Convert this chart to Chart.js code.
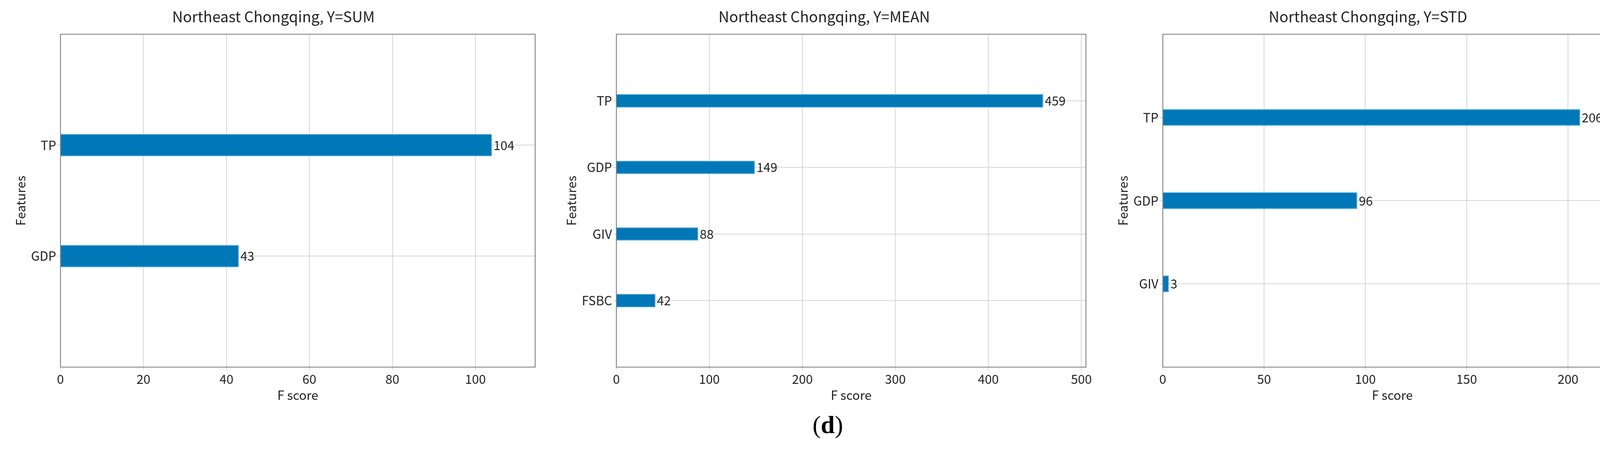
<!DOCTYPE html>
<html>
<head>
<meta charset="utf-8">
<script src="https://cdn.jsdelivr.net/npm/chart.js@4"></script>
<style>
  body { margin: 0; background: #fff; width: 4184px; height: 1164px; position: relative; overflow: hidden; }
  .panel { position: absolute; top: 20px; height: 1010px; }
  #cap { position: absolute; top: 1050px; left: 2080px; font: 64px "Liberation Serif", serif; }
</style>
</head>
<body>
<div class="panel" style="left:10px;width:1380px"><canvas id="c1"></canvas></div>
<div class="panel" style="left:1420px;width:1380px"><canvas id="c2"></canvas></div>
<div class="panel" style="left:2832px;width:1340px"><canvas id="c3"></canvas></div>
<div id="cap">(<b>d</b>)</div>
<script>
// признаки (снизу вверх) и значения F score
const sumFeatures = ["GDP", "TP"];
const sumScores = [43, 104];
const meanFeatures = ["FSBC", "GIV", "GDP", "TP"];
const meanScores = [42, 88, 149, 459];
const stdFeatures = ["GIV", "GDP", "TP"];
const stdScores = [3, 96, 206];
const titles = ["Northeast Chongqing, Y=SUM", "Northeast Chongqing, Y=MEAN", "Northeast Chongqing, Y=STD"];
const xMax = [114.4, 504.9, 226.6];
const xStep = [20, 100, 50];

const FONT = '"Noto Sans CJK SC", "DejaVu Sans", sans-serif';

// рамка вокруг области графика + подписи значений
const frame = {
  id: "frame",
  afterDatasetsDraw(chart) {
    const { ctx, chartArea: a } = chart;
    const meta = chart.getDatasetMeta(0);
    ctx.save();
    ctx.font = "32px " + FONT;
    ctx.fillStyle = "#222";
    ctx.textBaseline = "middle";
    meta.data.forEach((el, i) => {
      ctx.fillText(String(chart.data.datasets[0].data[i].x), el.x + 4, el.y);
    });
    ctx.strokeStyle = "#777";
    ctx.lineWidth = 2;
    ctx.strokeRect(a.left, a.top, a.right - a.left, a.bottom - a.top);
    ctx.restore();
  }
};

function makeChart(id, feats, scores, k) {
  const n = feats.length;
  new Chart(document.getElementById(id), {
    type: "bar",
    data: {
      datasets: [{
        data: scores.map((v, i) => ({ x: v, y: i })),
        backgroundColor: "#0077b6", borderColor: "#4aa8dc", borderWidth: 2,
        barPercentage: 0.2, categoryPercentage: 1
      }]
    },
    options: {
      indexAxis: "y", animation: false, responsive: true, maintainAspectRatio: false,
      layout: { padding: { right: 20, left: 20 } },
      plugins: {
        legend: { display: false }, tooltip: { enabled: false },
        title: { display: true, text: titles[k], color: "#222", font: { family: FONT, size: 38, weight: "normal" }, padding: { bottom: 22 } }
      },
      scales: {
        x: {
          type: "linear", min: 0, max: xMax[k],
          afterBuildTicks: s => { const t = []; for (let v = 0; v <= xMax[k]; v += xStep[k]) t.push({ value: v }); s.ticks = t; },
          ticks: { color: "#222", font: { family: FONT, size: 32 }, maxRotation: 0 },
          grid: { color: "#d6d6d6", lineWidth: 2, tickLength: 8 },
          border: { display: false },
          title: { display: true, text: "F score", color: "#222", font: { family: FONT, size: 32 }, padding: 0 }
        },
        y: {
          type: "linear", min: -1, max: n, offset: false,
          afterBuildTicks: s => { s.ticks = feats.map((f, i) => ({ value: i })); },
          ticks: { color: "#222", font: { family: FONT, size: 32 }, callback: v => feats[v] },
          grid: { color: "#d6d6d6", lineWidth: 2, tickLength: 8, offset: false },
          border: { display: false },
          title: { display: true, text: "Features", color: "#222", font: { family: FONT, size: 32 } }
        }
      }
    },
    plugins: [frame]
  });
}

makeChart("c1", sumFeatures, sumScores, 0);
makeChart("c2", meanFeatures, meanScores, 1);
makeChart("c3", stdFeatures, stdScores, 2);
</script>
</body>
</html>
